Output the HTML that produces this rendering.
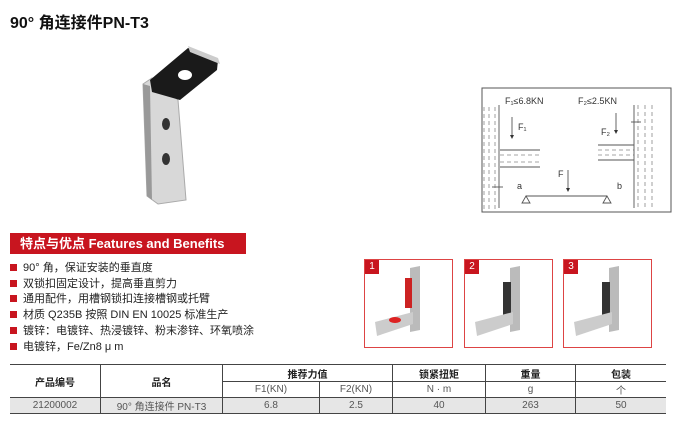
<!DOCTYPE html>
<html><head><meta charset="utf-8"><style>
body{margin:0;width:679px;height:442px;background:#fff;position:relative;overflow:hidden;font-family:"Liberation Sans","Noto Sans CJK SC",sans-serif;color:#222}
.a{position:absolute}
.t{font-size:16px;font-weight:bold;left:10px;top:9px;color:#111}
.ban{left:10px;top:233px;width:236px;height:21px;background:#c8151f;color:#fff;font-size:13px;font-weight:bold;line-height:21px}
.ban span{margin-left:10px}
ul{position:absolute;left:10px;top:261px;margin:0;padding:0;list-style:none;font-size:11px;line-height:15.7px;color:#222}
li:before{content:"";display:inline-block;width:7px;height:7px;background:#c8151f;margin-right:6px;vertical-align:0}
.box{width:87px;height:87px;border:1px solid #d44;}
.num{left:0;top:0;width:14px;height:14px;background:#c8151f;color:#fff;font-size:10px;text-align:center;line-height:14px}
table{position:absolute;left:10px;top:364px;border-collapse:collapse;font-size:10px;color:#555}
td{border:1px solid #444;text-align:center;padding:0;height:15px}
.h td{font-weight:bold;color:#222}
</style></head><body>
<div class="a t">90° 角连接件PN-T3</div>
<svg class="a" style="left:0;top:0" width="679" height="230">
<polygon points="143,84 152,78 178,100 186,200 158,204 147,196" fill="#d8d8d8" stroke="#aaa"/>
<polygon points="143,84 147,196 152,200 150,86" fill="#999"/>
<polygon points="150,80 188,48 218,60 217,70 180,100 152,92" fill="#1a1a1a"/>
<polygon points="188,46 218,58 220,64 190,52" fill="#ccc"/>
<ellipse cx="185" cy="75" rx="7" ry="5" fill="#fff"/>
<ellipse cx="166" cy="124" rx="4" ry="6" fill="#333"/>
<ellipse cx="166" cy="159" rx="4" ry="6" fill="#333"/>
<g stroke="#555" fill="none" stroke-width="1">
<rect x="482" y="88" width="189" height="124"/>
</g>
<g stroke="#888" fill="none" stroke-width="0.8" stroke-dasharray="4,3">
<line x1="484" y1="107" x2="484" y2="210"/><line x1="489" y1="107" x2="489" y2="210"/><line x1="495" y1="107" x2="495" y2="210"/>
<line x1="638" y1="105" x2="638" y2="210"/><line x1="645" y1="105" x2="645" y2="210"/><line x1="652" y1="105" x2="652" y2="210"/>
<line x1="500" y1="155" x2="540" y2="155"/><line x1="500" y1="162" x2="540" y2="162"/>
<line x1="598" y1="150" x2="634" y2="150"/><line x1="598" y1="155" x2="634" y2="155"/>
</g>
<g stroke="#555" fill="none" stroke-width="0.9">
<line x1="499" y1="105" x2="499" y2="208"/><line x1="634" y1="105" x2="634" y2="208"/>
<line x1="500" y1="150" x2="540" y2="150"/><line x1="500" y1="167" x2="540" y2="167"/>
<line x1="598" y1="145" x2="634" y2="145"/><line x1="598" y1="160" x2="634" y2="160"/>
<line x1="512" y1="117" x2="512" y2="136"/><line x1="616" y1="113" x2="616" y2="131"/>
<line x1="568" y1="170" x2="568" y2="189"/>
<line x1="526" y1="196" x2="607" y2="196"/>
<polygon points="526,196 522,203 530,203"/><polygon points="607,196 603,203 611,203"/>
<line x1="492" y1="187" x2="503" y2="187"/><line x1="631" y1="122" x2="641" y2="122"/>
</g>
<g fill="#333"><polygon points="510,135 514,135 512,139"/><polygon points="614,130 618,130 616,134"/><polygon points="566,188 570,188 568,192"/></g>
<g font-size="9" fill="#333">
<text x="505" y="104">F₁≤6.8KN</text><text x="578" y="104">F₂≤2.5KN</text>
<text x="518" y="130">F₁</text><text x="601" y="135">F₂</text>
<text x="558" y="177">F</text><text x="517" y="189">a</text><text x="617" y="189">b</text>
</g>
</svg>
<div class="a ban"><span>特点与优点 Features and Benefits</span></div>
<ul><li>90°  角，保证安装的垂直度</li><li>双锁扣固定设计，提高垂直剪力</li><li>通用配件，用槽钢锁扣连接槽钢或托臂</li><li>材质 Q235B 按照 DIN EN 10025 标准生产</li><li>镀锌：电镀锌、热浸镀锌、粉末渗锌、环氧喷涂</li><li>电镀锌，Fe/Zn8 μ m</li></ul>
<div class="a box" style="left:364px;top:259px"><div class="a num">1</div>
<svg width="87" height="87"><polygon points="45,8 55,6 55,70 45,72" fill="#bbb"/><polygon points="10,62 48,52 48,64 12,76" fill="#ccc"/><rect x="40" y="18" width="7" height="30" fill="#c22"/><ellipse cx="30" cy="60" rx="6" ry="3" fill="#d22"/></svg></div>
<div class="a box" style="left:464px;top:259px"><div class="a num">2</div>
<svg width="87" height="87"><polygon points="45,8 55,6 55,70 45,72" fill="#bbb"/><rect x="38" y="22" width="8" height="34" fill="#333"/><polygon points="10,62 48,52 48,64 12,76" fill="#ccc"/></svg></div>
<div class="a box" style="left:563px;top:259px"><div class="a num">3</div>
<svg width="87" height="87"><polygon points="45,8 55,6 55,70 45,72" fill="#bbb"/><rect x="38" y="22" width="8" height="34" fill="#333"/><polygon points="10,62 48,52 48,64 12,76" fill="#ccc"/></svg></div>
<table>
<tr class="h"><td rowspan="2" style="width:90px;border-left:none">产品编号</td><td rowspan="2" style="width:121px">品名</td><td colspan="2" style="height:16px">推荐力值</td><td style="width:92px">锁紧扭矩</td><td style="width:89px">重量</td><td style="width:90px;border-right:none">包装</td></tr>
<tr><td style="width:96px;height:14px">F1(KN)</td><td style="width:72px">F2(KN)</td><td>N · m</td><td>g</td><td style="border-right:none">个</td></tr>
<tr style="background:#e6e6e6"><td style="border-left:none">21200002</td><td>90°  角连接件 PN-T3</td><td>6.8</td><td>2.5</td><td>40</td><td>263</td><td style="border-right:none">50</td></tr>
</table>
</body></html>
